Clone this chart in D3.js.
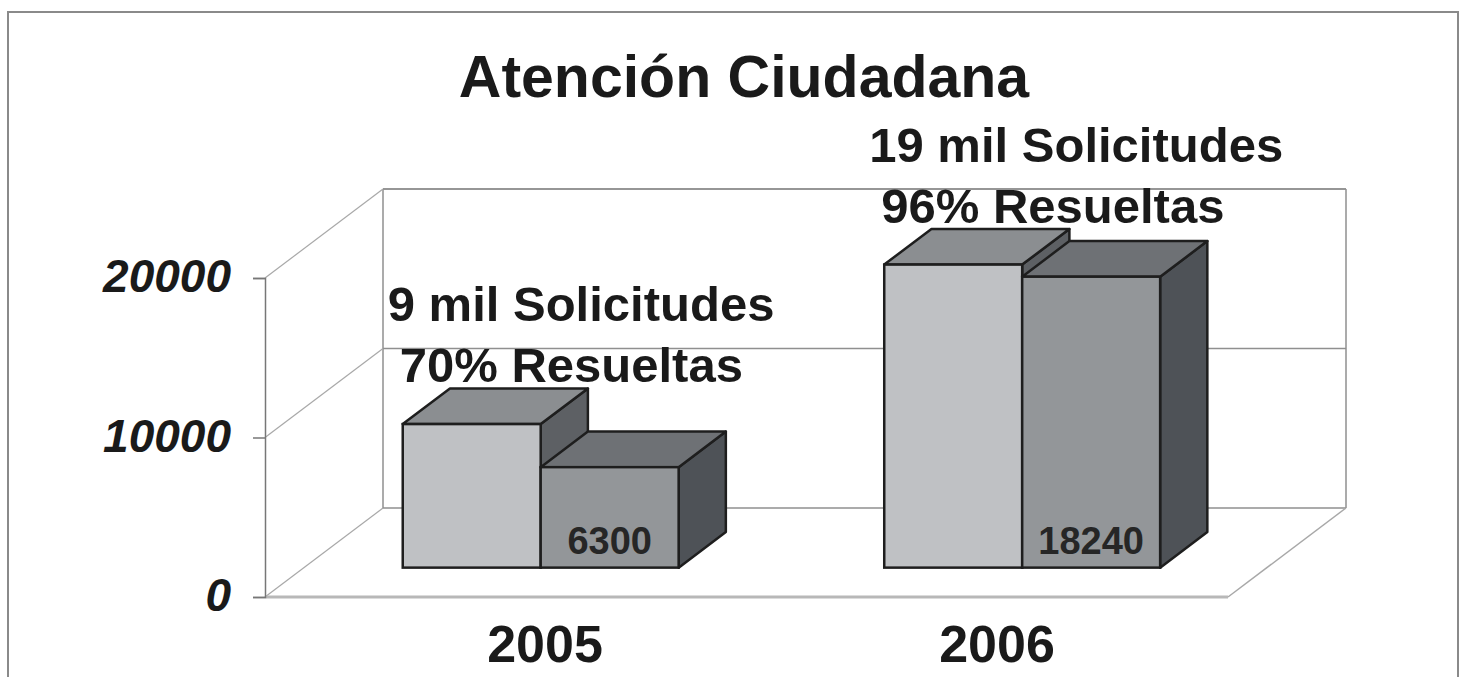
<!DOCTYPE html>
<html>
<meta charset="utf-8">
<head>
	<title>Atención Ciudadana</title>
	<script src="https://d3js.org/d3.v7.min.js"></script>
</head>
<body style="margin:0;background:#fff">
<svg id="chart" width="1465" height="677"></svg>

<script>
	// data
	var categories = ["2005", "2006"];
	var solicitudes = [9000, 19000];
	var resueltas = [6300, 18240];
	var yTicks = [0, 10000, 20000];
	var noteTop = ["9 mil Solicitudes", "19 mil Solicitudes"];
	var noteBottom = ["70% Resueltas", "96% Resueltas"];
	var title = "Atención Ciudadana";

	var svg = d3.select("#chart");
	var font = "'Liberation Sans', Arial, sans-serif";

	// frame around the chart
	svg.append("rect")
		.attr("x", 8).attr("y", 12)
		.attr("width", 1450).attr("height", 700)
		.attr("fill", "none")
		.attr("stroke", "#8a8a8a")
		.attr("stroke-width", 2);

	var y = d3.scaleLinear().domain([0, 20000]).range([597, 278]);
	var floorX = [265, 1228];
	var x0 = d3.scaleBand().domain(categories).range([261, 1224])
		.paddingInner(0.427).paddingOuter(0.2135);
	var x1 = d3.scaleBand().domain([0, 1]).range([0, x0.bandwidth()]);
	// category labels sit a little off the band centres (perspective)
	var xLabel = d3.scaleBand().domain(categories).range([319, 1223]);

	// oblique depth offset (full depth of the box)
	var DX = 118, DY = -89;
	function pt(x, v, d) {
		return [x + DX * d, y(v) + DY * d];
	}
	function line(a, b, color, w) {
		svg.append("line")
			.attr("x1", a[0]).attr("y1", a[1])
			.attr("x2", b[0]).attr("y2", b[1])
			.attr("stroke", color)
			.attr("stroke-width", w);
	}

	var wallColor = "#8f8f8f";
	var yMax = y.domain()[1];

	// back wall
	line(pt(floorX[0], yMax, 1), pt(floorX[1], yMax, 1), wallColor, 1.5);
	line(pt(floorX[1], yMax, 1), pt(floorX[1], 0, 1), wallColor, 1.5);
	line(pt(floorX[0], yMax, 1), pt(floorX[0], 0, 1), wallColor, 1.5);
	yTicks.forEach(function (t) {
		line(pt(floorX[0], t, 1), pt(floorX[1], t, 1), wallColor, 1.5);
		// side wall diagonals
		line(pt(floorX[0], t, 0), pt(floorX[0], t, 1), "#a8a8a8", 1.2);
	});
	// floor
	line(pt(floorX[1], 0, 0), pt(floorX[1], 0, 1), "#a8a8a8", 1.5);
	line(pt(floorX[0], 0, 0), pt(floorX[1], 0, 0), "#b8b8b8", 3);

	// value axis
	var axis = svg.append("g")
		.attr("transform", "translate(" + floorX[0] + ",0)")
		.call(d3.axisLeft(y).tickValues(yTicks).tickSize(12).tickPadding(22).tickFormat(d3.format("d")));
	axis.select(".domain").attr("stroke", "#777").attr("stroke-width", 1.5);
	axis.selectAll(".tick line").attr("stroke", "#777").attr("stroke-width", 1.5);
	axis.selectAll(".tick text")
		.attr("font-family", font)
		.attr("font-size", 46)
		.attr("font-weight", "bold")
		.attr("font-style", "italic")
		.attr("fill", "#1a1a1a")
		.attr("dy", "0.3em");

	// 3D bars
	var dFront = 0.33, dBack = 0.73;
	var series = [
		{ values: solicitudes, front: "#bfc1c4", top: "#8b8e91", side: "#5d6064" },
		{ values: resueltas, front: "#939699", top: "#6e7175", side: "#4e5257" }
	];
	var outline = "#1e1e1e";

	categories.forEach(function (c, i) {
		series.forEach(function (s, j) {
			var v = s.values[i];
			var xl = x0(c) + x1(j), xr = xl + x1.bandwidth();
			var fl = pt(xl, v, dFront), fr = pt(xr, v, dFront);
			var bl = pt(xl, v, dBack), br = pt(xr, v, dBack);
			var fb = pt(xr, 0, dFront), bb = pt(xr, 0, dBack);
			var base = pt(xl, 0, dFront);

			svg.append("polygon")
				.attr("points", [fr, br, bb, fb].join(" "))
				.attr("fill", s.side).attr("stroke", outline).attr("stroke-width", 2.5)
				.attr("stroke-linejoin", "round");
			svg.append("polygon")
				.attr("points", [fl, fr, br, bl].join(" "))
				.attr("fill", s.top).attr("stroke", outline).attr("stroke-width", 2.5)
				.attr("stroke-linejoin", "round");
			svg.append("rect")
				.attr("x", fl[0]).attr("y", fl[1])
				.attr("width", fr[0] - fl[0]).attr("height", base[1] - fl[1])
				.attr("fill", s.front).attr("stroke", outline).attr("stroke-width", 2.5);

			if (j === 1) {
				svg.append("text")
					.attr("x", (fl[0] + fr[0]) / 2)
					.attr("y", base[1] - 14)
					.attr("text-anchor", "middle")
					.attr("font-family", font)
					.attr("font-size", 38)
					.attr("font-weight", "bold")
					.attr("fill", "#262626")
					.text(d3.format("d")(v));
			}
		});

		// annotation above the first bar
		var topLeft = pt(x0(c), solicitudes[i], dFront);
		svg.append("text")
			.attr("x", topLeft[0] - 15).attr("y", topLeft[1] - 103)
			.attr("font-family", font).attr("font-size", 49).attr("font-weight", "bold")
			.attr("fill", "#1a1a1a")
			.text(noteTop[i]);
		svg.append("text")
			.attr("x", topLeft[0] - 3).attr("y", topLeft[1] - 42)
			.attr("font-family", font).attr("font-size", 49).attr("font-weight", "bold")
			.attr("fill", "#1a1a1a")
			.text(noteBottom[i]);

		// category label
		svg.append("text")
			.attr("x", xLabel(c) + xLabel.bandwidth() / 2)
			.attr("y", 662)
			.attr("text-anchor", "middle")
			.attr("font-family", font).attr("font-size", 52).attr("font-weight", "bold")
			.attr("fill", "#1a1a1a")
			.text(c);
	});

	svg.append("text")
		.attr("x", 744).attr("y", 97)
		.attr("text-anchor", "middle")
		.attr("font-family", font).attr("font-size", 59).attr("font-weight", "bold")
		.attr("fill", "#1a1a1a")
		.text(title);
</script>
</body>
</html>
